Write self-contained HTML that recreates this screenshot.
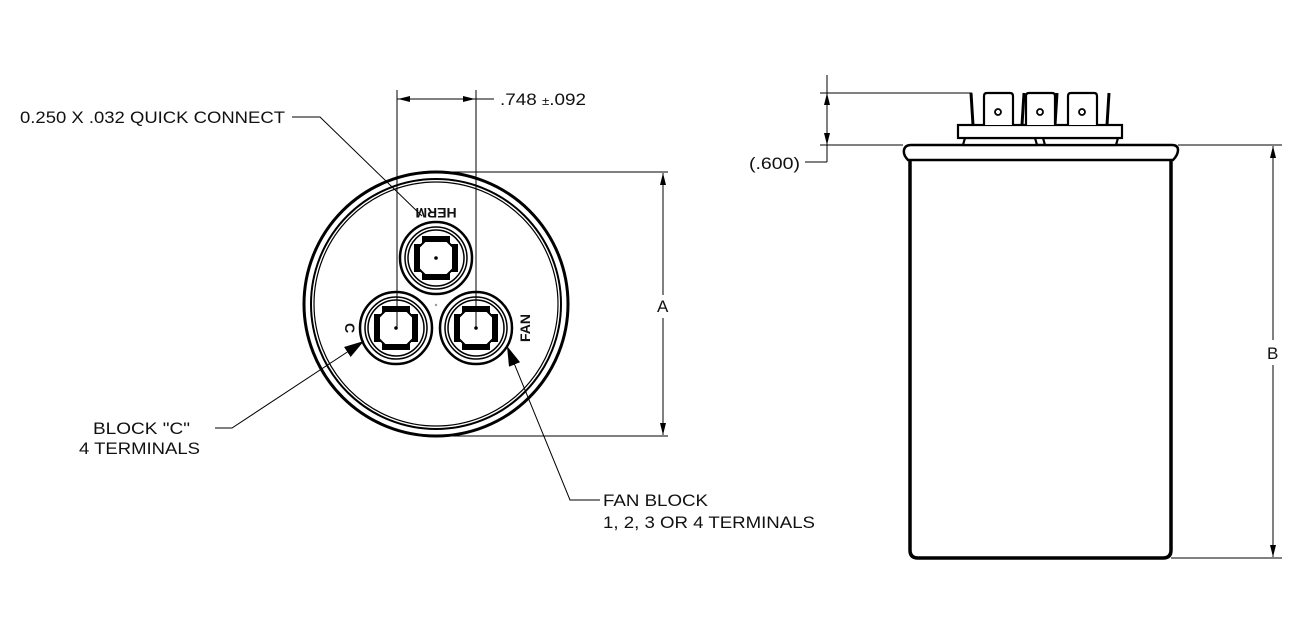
<!DOCTYPE html>
<html><head><style>
html,body{margin:0;padding:0;background:#fff;}
svg{display:block}
text{font-family:"Liberation Sans",Arial,sans-serif;fill:#111}
</style></head><body>
<svg width="1299" height="627" viewBox="0 0 1299 627" xmlns="http://www.w3.org/2000/svg">
<defs>
<g id="term">
  <circle r="36" fill="none" stroke="#000" stroke-width="2.5"/>
  <circle r="31" fill="none" stroke="#000" stroke-width="1.5"/>
  <circle r="28" fill="none" stroke="#000" stroke-width="1.5"/>
  <rect x="-14" y="-22" width="28" height="7" fill="#000"/>
  <rect x="-14" y="15" width="28" height="7" fill="#000"/>
  <rect x="-22" y="-14" width="7" height="28" fill="#000"/>
  <rect x="15" y="-14" width="7" height="28" fill="#000"/>
  <polygon points="-11,-17 11,-17 17,-11 17,11 11,17 -11,17 -17,11 -17,-11" fill="#fff" stroke="#000" stroke-width="2"/>
  <circle r="1.8" fill="#000"/>
</g>
<marker id="ar" markerWidth="12" markerHeight="6" refX="12" refY="3" orient="auto" markerUnits="userSpaceOnUse"><path d="M0,0 L12,3 L0,6z" fill="#000"/></marker>
<marker id="big" markerWidth="20" markerHeight="12" refX="20" refY="6" orient="auto" markerUnits="userSpaceOnUse"><path d="M0,0 L20,6 L0,12z" fill="#000"/></marker>
</defs>

<circle cx="436" cy="304" r="132" fill="none" stroke="#000" stroke-width="3"/>
<circle cx="436" cy="304" r="125" fill="none" stroke="#000" stroke-width="2"/>
<circle cx="436" cy="304" r="122" fill="none" stroke="#000" stroke-width="1.2"/>
<use href="#term" x="436" y="258"/>
<use href="#term" x="396" y="328"/>
<use href="#term" x="476" y="328"/>
<circle cx="436" cy="305" r="1.2" fill="#999"/>
<text x="436" y="208" font-size="14" font-weight="bold" text-anchor="middle" transform="rotate(180 436 208)">HERM</text>
<text x="345" y="328" font-size="14" font-weight="bold" text-anchor="middle" transform="rotate(90 345 328)">C</text>
<text x="530" y="328" font-size="14" font-weight="bold" text-anchor="middle" transform="rotate(-90 530 328)">FAN</text>

<g stroke="#000" stroke-width="1" fill="none">
<line x1="397" y1="90" x2="397" y2="328"/>
<line x1="476" y1="90" x2="476" y2="328"/>
<line x1="476" y1="99" x2="398" y2="99" marker-end="url(#ar)"/>
<line x1="397" y1="99" x2="475" y2="99" marker-end="url(#ar)"/>
<line x1="476" y1="99" x2="494" y2="99"/>
<line x1="436" y1="172" x2="668" y2="172"/>
<line x1="436" y1="436" x2="668" y2="436"/>
<line x1="663" y1="295" x2="663" y2="173" marker-end="url(#ar)"/>
<line x1="663" y1="318" x2="663" y2="435" marker-end="url(#ar)"/>
<polyline points="292,117 320,117 422,216"/>
<polyline points="215,428 232,428 364,341" marker-end="url(#big)"/>
<polyline points="600,500 570,500 507,346" marker-end="url(#big)"/>
</g>
<text x="500" y="105" font-size="17" textLength="86" lengthAdjust="spacingAndGlyphs">.748 <tspan font-size="12">±</tspan>.092</text>
<text x="20" y="123" font-size="17" textLength="265" lengthAdjust="spacingAndGlyphs">0.250 X .032 QUICK CONNECT</text>
<text x="657" y="312" font-size="17">A</text>
<text x="93" y="434" font-size="17" textLength="97" lengthAdjust="spacingAndGlyphs">BLOCK "C"</text>
<text x="79" y="454" font-size="17" textLength="121" lengthAdjust="spacingAndGlyphs">4 TERMINALS</text>
<text x="603" y="506" font-size="17" textLength="105" lengthAdjust="spacingAndGlyphs">FAN BLOCK</text>
<text x="603" y="528" font-size="17" textLength="212" lengthAdjust="spacingAndGlyphs">1, 2, 3 OR 4 TERMINALS</text>

<g stroke="#000" fill="#fff">
<path d="M910,160 L910,550 Q910,558 918,558 L1163,558 Q1171,558 1171,550 L1171,160" stroke-width="3.5"/>
<path d="M908,160 Q903,155 904,150 Q905,145 911,145 L1172,145 Q1178,145 1178,150 Q1178,155 1173,160 Z" stroke-width="2.5"/>
<path d="M965,138 L1035,138 L1037,145 L963,145 Z M1043,138 L1118,138 L1116,145 L1045,145 Z" stroke-width="2.2"/>
<rect x="958" y="125" width="164" height="13" stroke-width="2.2"/>
<line x1="971" y1="93" x2="973" y2="125" stroke-width="3"/>
<line x1="1024" y1="93" x2="1022" y2="125" stroke-width="3"/>
<line x1="1057" y1="93" x2="1055" y2="125" stroke-width="3"/>
<line x1="1109" y1="93" x2="1107" y2="125" stroke-width="3"/>
<path d="M984,125 L984,96 Q984,93 987,93 L1010,93 Q1013,93 1013,96 L1013,125" stroke-width="2.2"/>
<path d="M1026,125 L1026,96 Q1026,93 1029,93 L1052,93 Q1055,93 1055,96 L1055,125" stroke-width="2.2"/>
<path d="M1068,125 L1068,96 Q1068,93 1071,93 L1094,93 Q1097,93 1097,96 L1097,125" stroke-width="2.2"/>
<circle cx="998" cy="112" r="3" stroke-width="1.8"/>
<circle cx="1040" cy="112" r="3" stroke-width="1.8"/>
<circle cx="1082" cy="112" r="3" stroke-width="1.8"/>
</g>
<g stroke="#000" stroke-width="1" fill="none">
<line x1="820" y1="93" x2="972" y2="93"/>
<line x1="820" y1="145" x2="903" y2="145"/>
<line x1="1178" y1="145" x2="1282" y2="145"/>
<line x1="1171" y1="558" x2="1282" y2="558"/>
<line x1="827" y1="93" x2="827" y2="145"/>
<line x1="827" y1="75" x2="827" y2="93"/>
<line x1="827" y1="145" x2="827" y2="162"/>
<line x1="805" y1="162" x2="827" y2="162"/>
<line x1="1273" y1="340" x2="1273" y2="146" marker-end="url(#ar)"/>
<line x1="1273" y1="365" x2="1273" y2="557" marker-end="url(#ar)"/>
</g>
<path d="M824,105 L827,93 L830,105 Z M824,133 L827,145 L830,133 Z" fill="#000"/>
<text x="749" y="169" font-size="17" textLength="51" lengthAdjust="spacingAndGlyphs">(.600)</text>
<text x="1267" y="359" font-size="17">B</text>
</svg>
</body></html>
